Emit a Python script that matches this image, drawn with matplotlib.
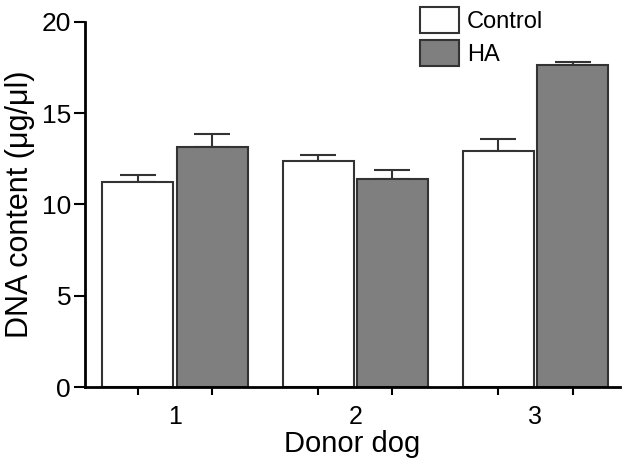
import numpy as np
import matplotlib
matplotlib.use("Agg")
import matplotlib.pyplot as plt

plt.rcParams['font.family'] = ['Liberation Sans', 'DejaVu Sans']

donors = ["1", "2", "3"]
control = [11.24, 12.38, 12.95]
control_err = [0.37, 0.33, 0.62]
ha = [13.13, 11.41, 17.63]
ha_err = [0.73, 0.47, 0.18]

x = np.arange(len(donors))
w = 0.394
off = 0.206
edge = "#333333"

fig = plt.figure(figsize=(6.23, 4.61), dpi=100)
ax = fig.add_axes([0.1364, 0.1605, 0.859, 0.792])

ax.bar(x - off, control, w, color="white", edgecolor=edge, linewidth=1.5,
       label="Control", zorder=2)
ax.bar(x + off, ha, w, color="#7f7f7f", edgecolor=edge, linewidth=1.5,
       label="HA", zorder=2)
ax.errorbar(x - off, control, yerr=[np.zeros(3), control_err], fmt="none",
            ecolor=edge, elinewidth=1.5, capsize=13, capthick=1.5, zorder=1)
ax.errorbar(x + off, ha, yerr=[np.zeros(3), ha_err], fmt="none",
            ecolor=edge, elinewidth=1.5, capsize=13, capthick=1.5, zorder=1)

ax.set_xlim(-0.5, 2.47)
ax.set_ylim(0, 20)
ax.set_yticks([0, 5, 10, 15, 20])

# ticks at bar centres, labels at group centres
ax.set_xticks(np.concatenate([x - off, x + off]))
ax.set_xticklabels([])
ax.set_xticks(x, minor=True)
ax.set_xticklabels(donors, minor=True)
ax.tick_params(axis="x", which="minor", length=0, pad=13, labelsize=18)
ax.tick_params(axis="x", which="major", length=6, width=1.5)
ax.tick_params(axis="y", length=8, width=1.5, pad=2, labelsize=19)

for s in ["top", "right"]:
    ax.spines[s].set_visible(False)
for s in ["left", "bottom"]:
    ax.spines[s].set_linewidth(2)

ax.set_xlabel("Donor dog", fontsize=21, labelpad=1)
ax.set_ylabel("DNA content (μg/μl)", fontsize=22, labelpad=5)

ax.legend(loc="upper left", bbox_to_anchor=(0.626, 1.04), frameon=False,
          fontsize=17, handlelength=1.65, handleheight=1.3, labelspacing=0.3,
          handletextpad=0.35, borderpad=0, borderaxespad=0)

fig.savefig("out.png", dpi=100)
